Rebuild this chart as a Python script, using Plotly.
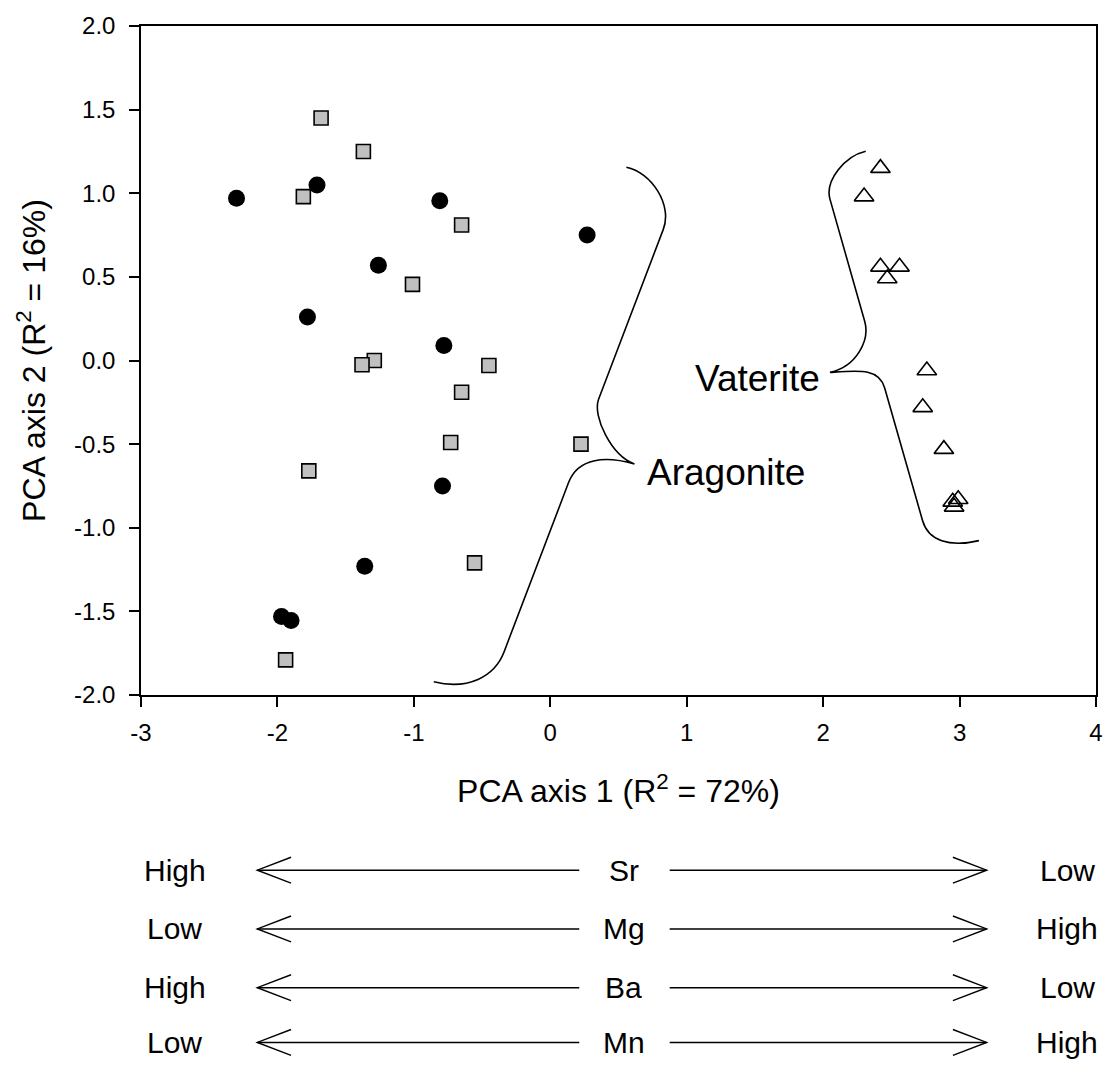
import plotly.graph_objects as go

# ---------------- data ----------------
circle_x = [-2.30, -1.71, -0.81, 0.27, -1.26, -1.78, -0.78, -0.79, -1.36, -1.97, -1.90]
circle_y = [0.97, 1.05, 0.955, 0.75, 0.57, 0.26, 0.09, -0.75, -1.23, -1.53, -1.555]

square_x = [-1.68, -1.37, -1.81, -0.65, -1.01, -1.29, -1.38, -0.45, -0.65, -0.73, 0.225, -1.77, -0.555, -1.94]
square_y = [1.45, 1.25, 0.98, 0.81, 0.455, 0.0, -0.025, -0.03, -0.19, -0.49, -0.50, -0.66, -1.21, -1.79]

tri_x = [2.42, 2.30, 2.42, 2.56, 2.47, 2.76, 2.73, 2.885, 2.99, 2.95, 2.96]
tri_y = [1.15, 0.98, 0.56, 0.56, 0.49, -0.06, -0.28, -0.53, -0.83, -0.845, -0.875]

x_ticks = [-3, -2, -1, 0, 1, 2, 3, 4]
y_ticks = [-2.0, -1.5, -1.0, -0.5, 0.0, 0.5, 1.0, 1.5, 2.0]

left_labels = ["High", "Low", "High", "Low"]
elements = ["Sr", "Mg", "Ba", "Mn"]
right_labels = ["Low", "High", "Low", "High"]

# brace outlines (data coordinates)
aragonite_brace = ("M0.558,1.156 C0.740,1.126 0.900,0.930 0.827,0.781 "
                   "L0.354,-0.232 C0.307,-0.333 0.449,-0.571 0.617,-0.619 "
                   "C0.413,-0.571 0.205,-0.577 0.134,-0.730 "
                   "L-0.339,-1.743 C-0.410,-1.893 -0.606,-1.971 -0.854,-1.921")
vaterite_brace = ("M2.312,1.251 C2.159,1.222 2.012,1.076 2.050,0.965 "
                  "L2.305,0.233 C2.343,0.123 2.247,-0.035 2.050,-0.071 "
                  "C2.269,-0.059 2.409,-0.045 2.451,-0.164 "
                  "L2.729,-0.958 C2.771,-1.077 2.924,-1.119 3.142,-1.077")

FONT = "Arial, Liberation Sans, sans-serif"

fig = go.Figure()
fig.add_trace(go.Scatter(x=circle_x, y=circle_y, mode="markers",
                         marker=dict(symbol="circle", size=17, color="black", line=dict(width=0))))
fig.add_trace(go.Scatter(x=square_x, y=square_y, mode="markers",
                         marker=dict(symbol="square", size=14, color="#c0c0c0",
                                     line=dict(color="black", width=1.6))))
fig.add_trace(go.Scatter(x=tri_x, y=tri_y, mode="markers",
                         marker=dict(symbol="triangle-up-open", size=17, color="black",
                                     line=dict(color="black", width=1.6))))

shapes = []
for p in (aragonite_brace, vaterite_brace):
    shapes.append(dict(type="path", xref="x", yref="y", path=p,
                       line=dict(color="black", width=1.6)))

# bottom rows: pixel -> paper helpers
PL, PR, PT, PB = 141, 1102, 23, 695
def px(v):
    return (v - PL) / (PR - PL)
def py(v):
    return (PB - v) / (PB - PT)

row_y = [871, 930, 989, 1044]
annotations = []
for i in range(len(elements)):
    yy = row_y[i]
    # left arrow
    shapes.append(dict(type="line", xref="paper", yref="paper",
                       x0=px(258), x1=px(582), y0=py(yy), y1=py(yy),
                       line=dict(color="black", width=1.4)))
    shapes.append(dict(type="path", xref="paper", yref="paper",
                       path=f"M{px(292)},{py(yy-13)} L{px(258)},{py(yy)} L{px(292)},{py(yy+13)}",
                       line=dict(color="black", width=1.4)))
    # right arrow
    shapes.append(dict(type="line", xref="paper", yref="paper",
                       x0=px(673), x1=px(992), y0=py(yy), y1=py(yy),
                       line=dict(color="black", width=1.4)))
    shapes.append(dict(type="path", xref="paper", yref="paper",
                       path=f"M{px(958)},{py(yy-13)} L{px(992)},{py(yy)} L{px(958)},{py(yy+13)}",
                       line=dict(color="black", width=1.4)))
    for txt, xx in ((left_labels[i], 175), (elements[i], 627), (right_labels[i], 1073)):
        annotations.append(dict(text=txt, xref="paper", yref="paper", x=px(xx), y=py(yy),
                                xanchor="center", yanchor="middle", showarrow=False,
                                font=dict(family=FONT, size=30, color="black")))

annotations.append(dict(text="Vaterite", xref="x", yref="y", x=1.519, y=-0.11,
                        xanchor="center", yanchor="middle", showarrow=False,
                        font=dict(family=FONT, size=37, color="black")))
annotations.append(dict(text="Aragonite", xref="x", yref="y", x=1.286, y=-0.67,
                        xanchor="center", yanchor="middle", showarrow=False,
                        font=dict(family=FONT, size=37, color="black")))

fig.update_layout(
    width=1115, height=1068,
    margin=dict(l=PL, r=1115 - PR, t=PT, b=1068 - PB),
    paper_bgcolor="white", plot_bgcolor="white",
    showlegend=False,
    font=dict(family=FONT, color="black"),
    shapes=shapes, annotations=annotations,
)
fig.update_xaxes(range=[-3, 4], tickvals=x_ticks, ticktext=[str(v) for v in x_ticks],
                 showgrid=False, zeroline=False, showline=True, linecolor="black", linewidth=1.5,
                 mirror=True, ticks="outside", ticklen=10, tickwidth=1.5, tickcolor="black",
                 ticklabelstandoff=5,
                 tickfont=dict(family=FONT, size=24, color="black"),
                 title=dict(text="PCA axis 1 (R<sup>2</sup> = 72%)", standoff=35,
                            font=dict(family=FONT, size=32, color="black")))
fig.update_yaxes(range=[-2, 2], tickvals=y_ticks, ticktext=[f"{v:.1f}" for v in y_ticks],
                 showgrid=False, zeroline=False, showline=True, linecolor="black", linewidth=1.5,
                 mirror=True, ticks="outside", ticklen=10, tickwidth=1.5, tickcolor="black",
                 ticklabelstandoff=9,
                 tickfont=dict(family=FONT, size=24, color="black"),
                 title=dict(text="PCA axis 2 (R<sup>2</sup> = 16%)", standoff=19,
                            font=dict(family=FONT, size=32, color="black")))

fig.write_html("out.html", config={"displayModeBar": False},
               post_script="document.body.style.margin='0px';document.body.style.padding='0px';")
